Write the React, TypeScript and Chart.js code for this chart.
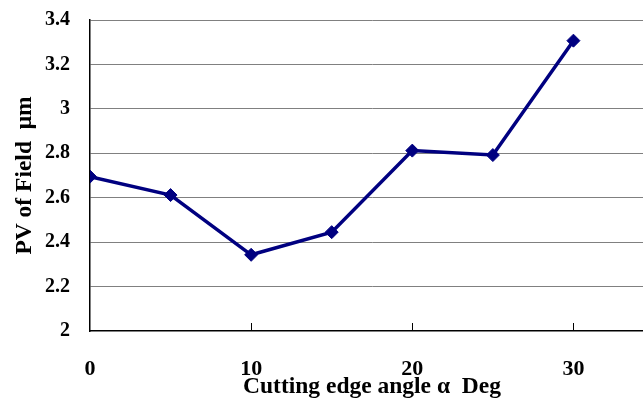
import React, { useEffect, useRef } from "react";
import { Chart, registerables } from "chart.js";

Chart.register(...registerables);

const angles = [0, 5, 10, 15, 20, 25, 30];
const pvValues = [2.695, 2.612, 2.343, 2.445, 2.812, 2.792, 3.307];
const xTickValues = [0, 10, 20, 30];
const yTickMin = 2;
const yTickMax = 3.4;
const yTickStep = 0.2;
const xTitle = "Cutting edge angle \u03b1  Deg";
const yTitle = "PV of Field  \u03bcm";

const serif = "'Liberation Serif', 'Times New Roman', serif";

const innerTicks = {
  id: "innerTicks",
  afterDraw(chart: any) {
    const { ctx, chartArea, scales } = chart;
    ctx.save();
    ctx.strokeStyle = "#000000";
    ctx.lineWidth = 1;
    for (const v of xTickValues) {
      if (v === 0) continue;
      const x = Math.round(scales.x.getPixelForValue(v)) + 0.5;
      ctx.beginPath();
      ctx.moveTo(x, chartArea.bottom);
      ctx.lineTo(x, chartArea.bottom - 8);
      ctx.stroke();
    }
    ctx.restore();
  },
};

export default function App() {
  const ref = useRef<HTMLCanvasElement>(null);
  useEffect(() => {
    if (!ref.current) return;
    const chart = new Chart(ref.current, {
      type: "line",
      data: {
        datasets: [
          {
            data: angles.map((a, i) => ({ x: a, y: pvValues[i] })),
            borderColor: "#000080",
            backgroundColor: "#000080",
            borderWidth: 3.5,
            pointStyle: "rectRot",
            pointRadius: 6.5,
            pointBorderWidth: 1,
            pointBackgroundColor: "#000080",
            pointBorderColor: "#000080",
            tension: 0,
          },
        ],
      },
      options: {
        animation: false,
        responsive: false,
        maintainAspectRatio: false,
        layout: { padding: { left: 11, top: 20, right: 11, bottom: 0 } },
        plugins: { legend: { display: false }, tooltip: { enabled: false } },
        scales: {
          x: {
            type: "linear",
            min: 0,
            max: 35,
            afterFit: (s: any) => {
              s.height = 70;
              s.paddingLeft = 0;
              s.paddingRight = 0;
            },
            grid: { display: false, drawTicks: false },
            border: { display: true, color: "#000000", width: 1.5 },
            ticks: {
              stepSize: 10,
              includeBounds: false,
              padding: 25,
              color: "#000000",
              maxRotation: 0,
              font: { family: serif, size: 22, weight: "bold" },
            },
            title: {
              display: true,
              text: xTitle,
              color: "#000000",
              padding: 0,
              font: { family: serif, size: 23.5, weight: "bold" },
            },
          },
          y: {
            type: "linear",
            min: yTickMin,
            max: yTickMax,
            afterFit: (s: any) => {
              s.width = 79;
              s.paddingTop = 0;
              s.paddingBottom = 0;
            },
            grid: {
              drawTicks: false,
              color: (c: any) => (c.tick && Math.abs(c.tick.value - yTickMin) < 1e-6 ? "rgba(0,0,0,0)" : "#808080"),
              lineWidth: 1,
            },
            border: { display: true, color: "#000000", width: 1.5 },
            ticks: {
              stepSize: yTickStep,
              padding: 20,
              color: "#000000",
              callback: (v: any) => String(Math.round(Number(v) * 10) / 10),
              font: { family: serif, size: 20, weight: "bold" },
            },
            title: {
              display: true,
              text: yTitle,
              color: "#000000",
              padding: 0,
              font: { family: serif, size: 23.5, weight: "bold" },
            },
          },
        },
      },
      plugins: [innerTicks],
    } as any);
    return () => chart.destroy();
  }, []);
  return (
    <div style={{ position: "fixed", left: 0, top: 0, width: 643, height: 401, overflow: "hidden", background: "#fff" }}>
      <canvas ref={ref} width={665} height={401} style={{ width: 665, height: 401, display: "block" }} />
    </div>
  );
}
